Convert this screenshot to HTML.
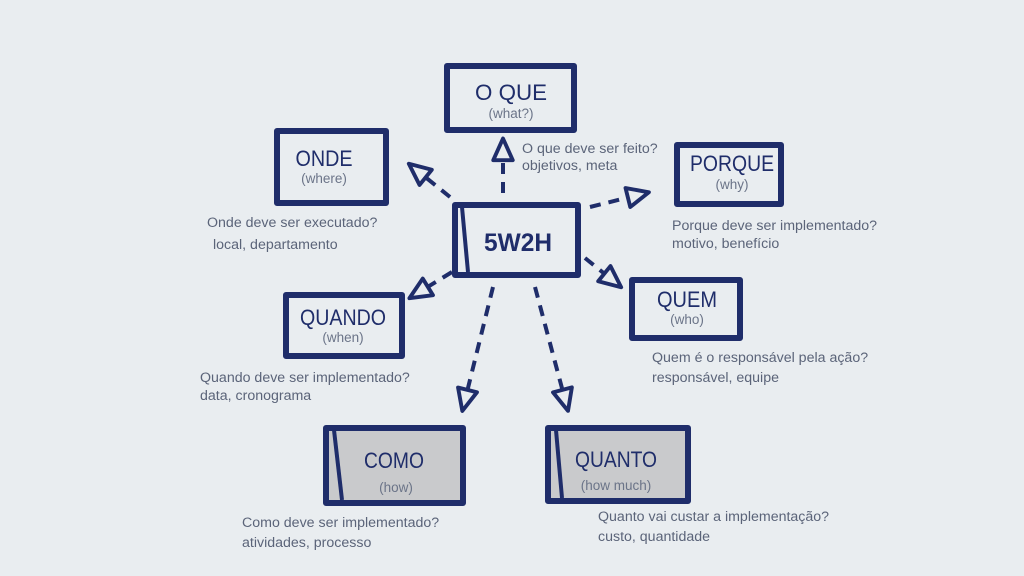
<!DOCTYPE html>
<html><head><meta charset="utf-8"><style>
html,body{margin:0;padding:0;background:#e9edf0;}
svg{display:block;}
.t{font-family:"Liberation Sans",sans-serif;font-size:14.2px;fill:#5b6479;}
.h{font-family:"Liberation Sans",sans-serif;font-size:22px;fill:#1f2d6a;text-anchor:middle;}
.s{font-family:"Liberation Sans",sans-serif;font-size:13.5px;fill:#6b7488;text-anchor:middle;}
.b{stroke:#1f2d6a;stroke-width:6;stroke-linejoin:round;}
.a{stroke:#1f2d6a;stroke-width:4;stroke-dasharray:11 8;fill:none;}
</style></head><body>
<svg width="1024" height="576" viewBox="0 0 1024 576">
<defs>
<marker id="m" viewBox="0 0 12 12" refX="2" refY="6" markerWidth="6.5" markerHeight="6.5" orient="auto" markerUnits="strokeWidth">
<path d="M1,1.5 L11,6 L1,10.5 Z" fill="#e9edf0" stroke="#1f2d6a" stroke-width="1.8" stroke-linejoin="round"/>
</marker>
</defs>
<rect width="1024" height="576" fill="#e9edf0"/>
<path class="a" d="M503,193 L503,158" marker-end="url(#m)"/>
<path class="a" d="M450,197 L424,176" marker-end="url(#m)"/>
<path class="a" d="M590,207 L630,197" marker-end="url(#m)"/>
<path class="a" d="M585,258 L606,275" marker-end="url(#m)"/>
<path class="a" d="M452,272 L426,288" marker-end="url(#m)"/>
<path class="a" d="M493,287 L467,392" marker-end="url(#m)"/>
<path class="a" d="M535,287 L563,392" marker-end="url(#m)"/>
<rect class="b" x="447" y="66" width="127" height="64" style="fill:#e9edf0"/>
<rect class="b" x="277" y="131" width="109" height="72" style="fill:#e9edf0"/>
<rect class="b" x="455" y="205" width="123" height="70" style="fill:#e9edf0"/>
<path class="b" d="M462,207 L468,272" style="stroke-width:4;fill:none"/>
<rect class="b" x="677" y="145" width="104" height="59" style="fill:#e9edf0"/>
<rect class="b" x="632" y="280" width="108" height="58" style="fill:#e9edf0"/>
<rect class="b" x="286" y="295" width="116" height="61" style="fill:#e9edf0"/>
<rect class="b" x="326" y="428" width="137" height="75" style="fill:#c9cacc"/>
<path class="b" d="M334,430 L342,500" style="stroke-width:4;fill:none"/>
<rect class="b" x="548" y="428" width="140" height="73" style="fill:#c9cacc"/>
<path class="b" d="M556,430 L562,498" style="stroke-width:4;fill:none"/>
<text class="h" x="511" y="100" textLength="72" lengthAdjust="spacingAndGlyphs">O QUE</text><text class="s" x="511" y="118">(what?)</text>
<text class="h" x="324" y="166" textLength="57" lengthAdjust="spacingAndGlyphs">ONDE</text><text class="s" x="324" y="183">(where)</text>
<text class="h" x="518" y="251" style="font-size:25px;font-weight:bold" textLength="68" lengthAdjust="spacingAndGlyphs">5W2H</text>
<text class="h" x="732" y="171" textLength="84" lengthAdjust="spacingAndGlyphs">PORQUE</text><text class="s" x="732" y="189">(why)</text>
<text class="h" x="687" y="307" textLength="60" lengthAdjust="spacingAndGlyphs">QUEM</text><text class="s" x="687" y="324">(who)</text>
<text class="h" x="343" y="325" textLength="86" lengthAdjust="spacingAndGlyphs">QUANDO</text><text class="s" x="343" y="342">(when)</text>
<text class="h" x="394" y="468" textLength="60" lengthAdjust="spacingAndGlyphs">COMO</text><text class="s" x="396" y="492">(how)</text>
<text class="h" x="616" y="467" textLength="82" lengthAdjust="spacingAndGlyphs">QUANTO</text><text class="s" x="616" y="490">(how much)</text>
<text class="t" x="522" y="153">O que deve ser feito?</text>
<text class="t" x="522" y="170">objetivos, meta</text>
<text class="t" x="207" y="227">Onde deve ser executado?</text>
<text class="t" x="213" y="249">local, departamento</text>
<text class="t" x="672" y="230">Porque deve ser implementado?</text>
<text class="t" x="672" y="248">motivo, benefício</text>
<text class="t" x="652" y="362">Quem é o responsável pela ação?</text>
<text class="t" x="652" y="382">responsável, equipe</text>
<text class="t" x="200" y="382">Quando deve ser implementado?</text>
<text class="t" x="200" y="400">data, cronograma</text>
<text class="t" x="242" y="527">Como deve ser implementado?</text>
<text class="t" x="242" y="547">atividades, processo</text>
<text class="t" x="598" y="521">Quanto vai custar a implementação?</text>
<text class="t" x="598" y="541">custo, quantidade</text>
</svg>
</body></html>
